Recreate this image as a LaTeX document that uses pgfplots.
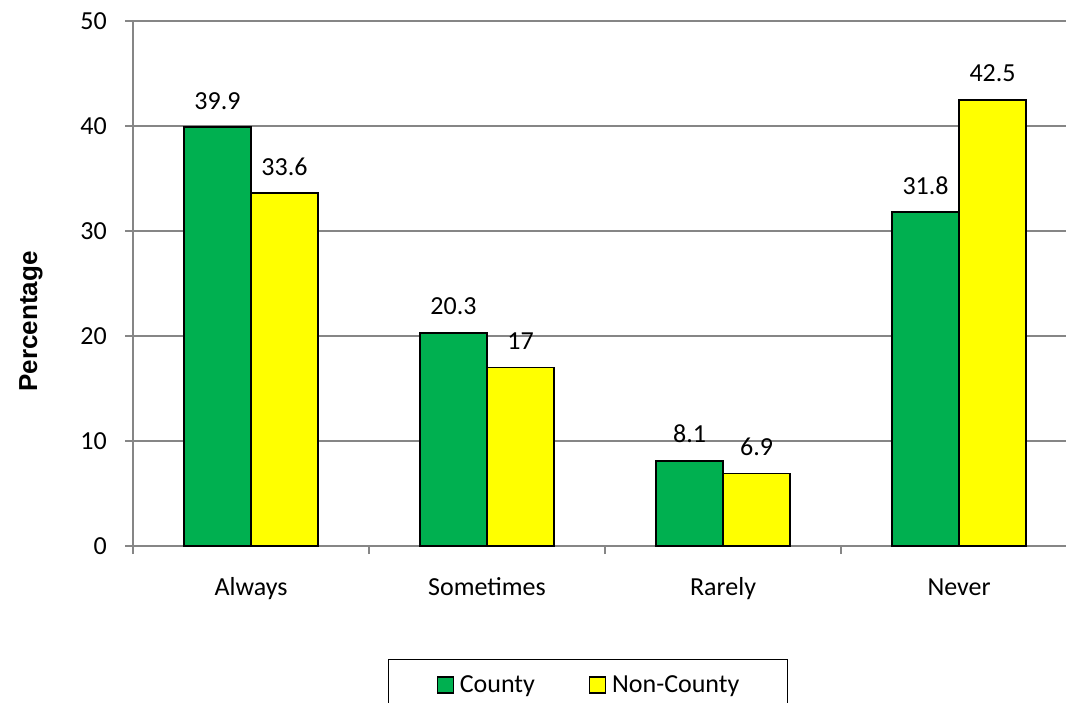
\documentclass[border=0pt]{standalone}
\usepackage{pgfplots}
\pgfplotsset{compat=1.18}
\usepackage{fontspec}
\setmainfont{Carlito}
\newfontfamily\arialfont{Liberation Sans}
\definecolor{cgreen}{HTML}{00B050}
\definecolor{cyellow}{HTML}{FFFF00}
\definecolor{cgrid}{HTML}{868686}
\newcommand{\fs}{\fontsize{26}{31}\selectfont}
\begin{document}
\begin{tikzpicture}[x=1pt,y=1pt]
\path[use as bounding box] (0,0) rectangle (1068,702);
\begin{axis}[
  at={(133pt,156pt)}, anchor=south west,
  scale only axis, width=933pt, height=525pt,
  xmin=-0.5, xmax=3.453, ymin=0, ymax=50,
  axis x line*=bottom, axis y line*=left,
  axis line style={cgrid, line width=1.2pt},
  ytick={0,10,20,30,40,50},
  ymajorgrids, grid style={cgrid, line width=1.2pt},
  xtick={0,1,2,3},
  xticklabels={Always,Sometimes,Rarely,Never},
  minor xtick={-0.5,0.5,1.5,2.5,3.5},
  tick align=outside,
  x tick style={draw=none},
  minor x tick style={draw=cgrid, line width=1.2pt},
  minor tick length=8pt,
  y tick style={cgrid, line width=1.2pt},
  major tick length=8pt,
  /pgf/number format/assume math mode=true,
  yticklabel style={font=\fs, anchor=east, inner sep=0pt, xshift=-18pt},
  xticklabel style={font=\fs, anchor=base, inner sep=0pt, yshift=-41pt},
  ybar=0pt, bar width=67pt,
  nodes near coords,
  every node near coord/.append style={font=\fs, anchor=base, inner sep=0pt, yshift=18pt, black},
  legend style={at={(0.4877,-0.2152)}, anchor=north, draw=black, line width=1.5pt, font=\fs,
     inner xsep=48pt, inner ysep=14pt,
     nodes={inner xsep=0pt},
     /tikz/every odd column/.append style={column sep=6pt},
     /tikz/every even column/.append style={column sep=54pt}},
  legend columns=2,
  legend image code/.code={\draw[#1, line width=1.2pt] (0pt,-8pt) rectangle (16pt,8pt);},
]
\addplot[fill=cgreen, draw=black, line width=1.5pt] coordinates {(0,39.9) (1,20.3) (2,8.1) (3,31.8)};
\addplot[fill=cyellow, draw=black, line width=1.5pt] coordinates {(0,33.6) (1,17) (2,6.9) (3,42.5)};
\legend{County,Non-County}
\end{axis}
\node[rotate=90, anchor=base, font=\arialfont\bfseries\fontsize{26}{31}\selectfont] at (37,380.5) {Percentage};
\end{tikzpicture}
\end{document}
